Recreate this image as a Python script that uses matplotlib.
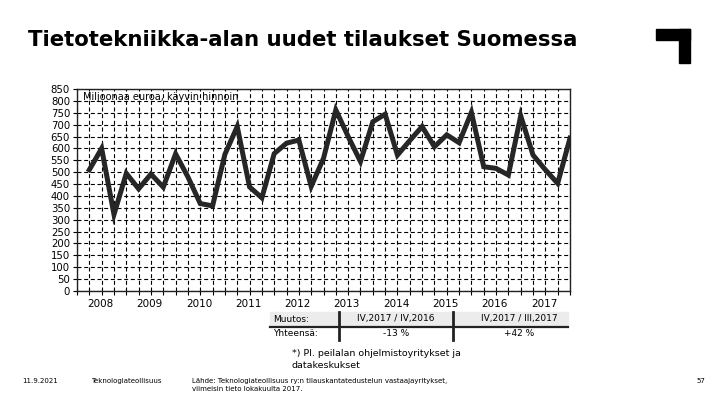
import matplotlib.pyplot as plt
from matplotlib.patches import Rectangle
from matplotlib.lines import Line2D

# Quarterly new orders, million euros (2008 Q1 .. 2017 Q4)
years = ['2008', '2009', '2010', '2011', '2012', '2013', '2014', '2015', '2016', '2017']
orders = [510, 600, 322, 495, 430, 492, 437, 577, 480, 368,
          358, 575, 692, 438, 392, 578, 622, 635, 440, 558,
          762, 650, 545, 712, 744, 572, 633, 692, 607, 657,
          624, 752, 523, 516, 488, 737, 572, 510, 453, 643]
yticks = list(range(0, 851, 50))
table_header = ['Muutos:', 'IV,2017 / IV,2016', 'IV,2017 / III,2017']
table_row = ['Yhteensä:', '-13 %', '+42 %']

W, H = 720, 405
fig = plt.figure(figsize=(7.2, 4.05), dpi=100)
plt.rcParams['font.family'] = ['DejaVu Sans']


def px(x, y):
    return x / W, 1 - y / H


ax = fig.add_axes([77 / W, 1 - 291 / H, 493 / W, 202 / H])
n = len(orders)
ax.plot(range(n), orders, color='#262626', lw=3.6, solid_joinstyle='miter', zorder=3)
ax.set_xlim(-1, n - 1)
ax.set_ylim(0, 850)
ax.set_xticks(range(-1, n))
ax.set_xticklabels([])
ax.set_yticks(yticks)
ax.set_yticklabels([str(v) for v in yticks], fontsize=7.3)
ax.tick_params(direction='out', length=3, width=0.8, color='black', pad=2)
ax.grid(True, color='black', lw=0.8, ls=(0, (3.6, 2.4)))
for s in ax.spines.values():
    s.set_color('#222222')
    s.set_linewidth(1)
for k, yr in enumerate(years):
    ax.text(4 * k + 0.9, -0.04, yr, transform=ax.get_xaxis_transform(),
            ha='center', va='top', fontsize=7.5)
ax.text(0.012, 0.985, 'Miljoonaa euroa, käyvin hinnoin', transform=ax.transAxes,
        ha='left', va='top', fontsize=7)

# title and logo
fig.text(*px(28, 40), 'Tietotekniikka-alan uudet tilaukset Suomessa',
         fontsize=15.3, fontweight='bold', ha='left', va='center')
fig.patches.append(Rectangle(px(656, 40), 34 / W, 11 / H, transform=fig.transFigure,
                             color='black'))
fig.patches.append(Rectangle(px(679, 63), 11 / W, 34 / H, transform=fig.transFigure,
                             color='black'))

# change table
fig.patches.append(Rectangle(px(270, 326), 298 / W, 14 / H, transform=fig.transFigure,
                             color='#ececec', zorder=0))
fig.add_artist(Line2D([270 / W, 568 / W], [1 - 327 / H] * 2, color='#222222', lw=1.6))
for xs in [339, 453]:
    fig.add_artist(Line2D([xs / W] * 2, [1 - 312 / H, 1 - 340 / H], color='#222222', lw=2))
col_x = [273, 396, 519]
for j, (h, r) in enumerate(zip(table_header, table_row)):
    ha = 'left' if j == 0 else 'center'
    fig.text(*px(col_x[j], 319), h, fontsize=6.5, ha=ha, va='center')
    fig.text(*px(col_x[j], 334), r, fontsize=6.5, ha=ha, va='center')

fig.text(*px(292, 353), '*) Pl. peilalan ohjelmistoyritykset ja', fontsize=6.8, va='center')
fig.text(*px(292, 365), 'datakeskukset', fontsize=6.8, va='center')

# footer
fig.text(*px(22, 381), '11.9.2021', fontsize=5, va='center')
fig.text(*px(91, 381), 'Teknologiateollisuus', fontsize=5, va='center')
fig.text(*px(192, 381), 'Lähde: Teknologiateollisuus ry:n tilauskantatedustelun vastaajayritykset,',
         fontsize=5, va='center')
fig.text(*px(192, 389), 'viimeisin tieto lokakuulta 2017.', fontsize=5, va='center')
fig.text(*px(705, 381), '57', fontsize=5, va='center', ha='right')

fig.savefig('out.png', dpi=100)
